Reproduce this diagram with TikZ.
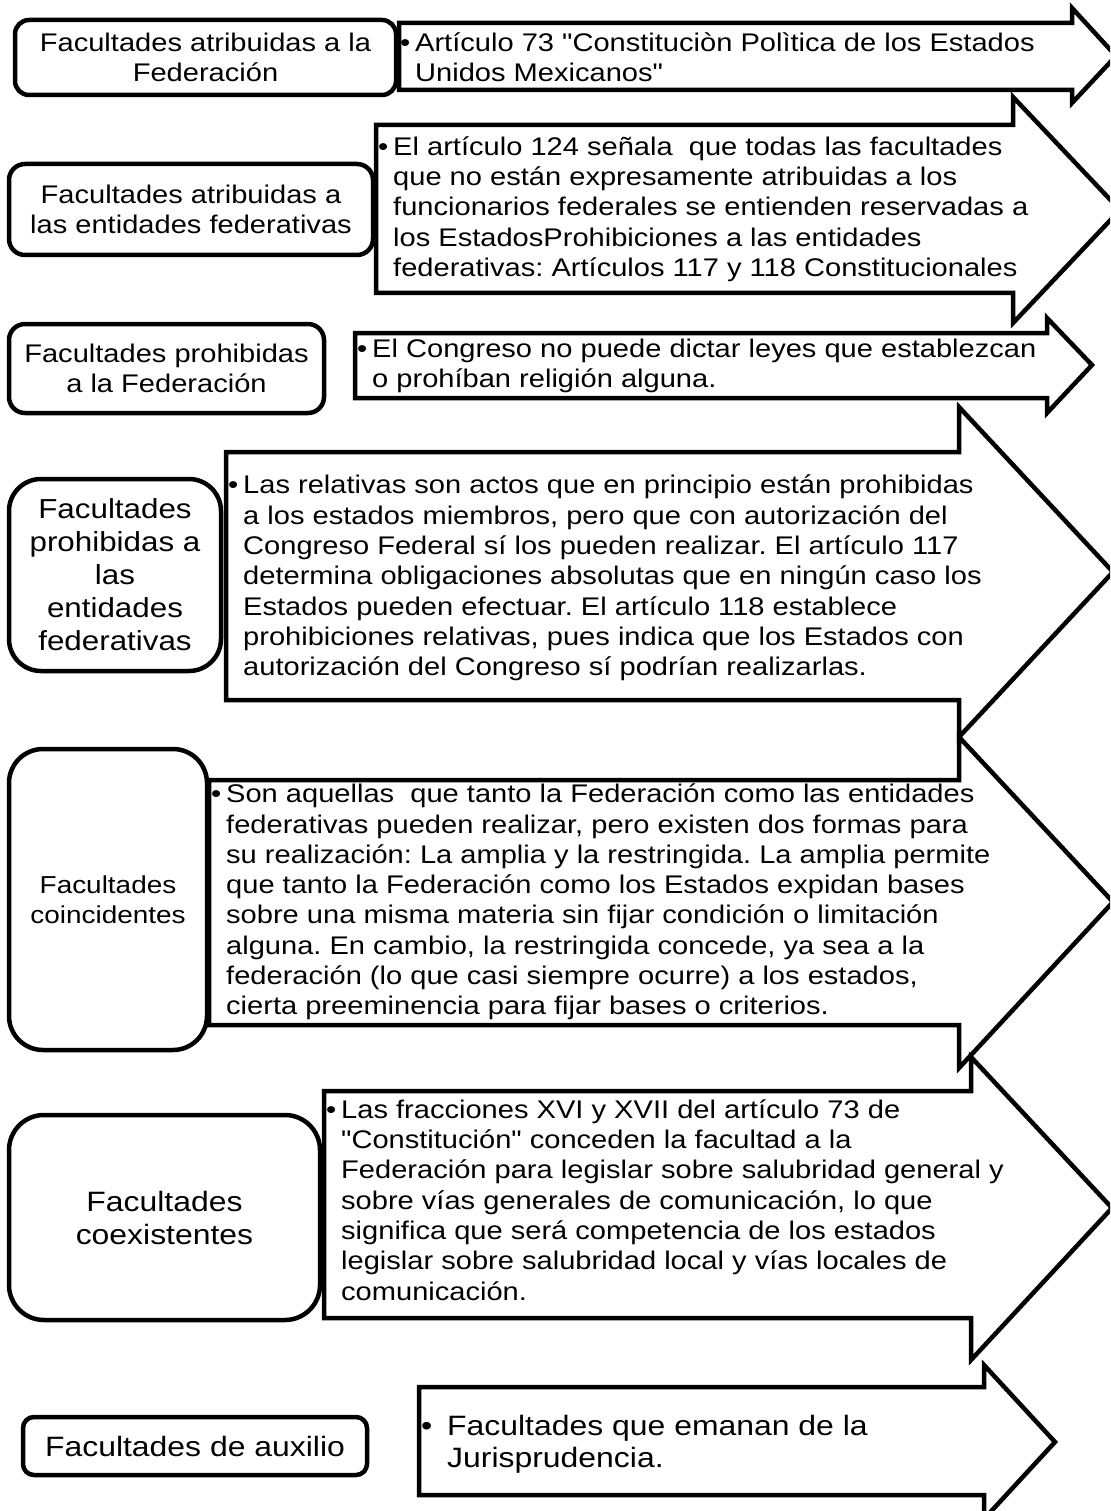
\documentclass[tikz,border=0pt]{standalone}
\usepackage{fontspec}
\setmainfont[FakeStretch=1.14,Ligatures=TeXOff]{Liberation Sans}
\newcommand\fsz[2]{\fontsize{#1}{#2}\selectfont}
\newcommand\blt{\makebox[15pt][l]{•}}
\newcommand\ind{\hspace*{15pt}}
\frenchspacing
\begin{document}
\frenchspacing
\begin{tikzpicture}[x=1pt,y=-1pt,
  arr/.style={draw=black, fill=white, line width=4.5pt, line join=miter},
  rbox/.style={draw=black, fill=white, line width=4.5pt, align=center, inner sep=0pt},
  atext/.style={anchor=west, align=left, inner sep=0pt, font=\fsz{25.5}{30.3}\frenchspacing}]
\useasboundingbox (0,0) rectangle (1110,1511);
\clip (0,0) rectangle (1110,1511);
\fill[white] (0,0) rectangle (1110,1511);

% ---------- arrows ----------
\draw[arr] (399,23) -- (1072,23) -- (1072,8) -- (1116,56) -- (1072,103) -- (1072,90) -- (399,90) -- cycle;
\draw[arr] (376,125) -- (1013,125) -- (1013,97) -- (1120,210) -- (1013,323) -- (1013,293) -- (376,293) -- cycle;
\draw[arr] (355,333) -- (1047,333) -- (1047,318) -- (1092,365) -- (1047,413) -- (1047,398) -- (355,398) -- cycle;
\draw[arr] (226,452) -- (959,452) -- (959,407) -- (1113,572) -- (959,737) -- (959,700) -- (226,700) -- cycle;
\draw[arr] (209,780) -- (959,780) -- (959,737) -- (1113,902) -- (959,1068) -- (959,1025) -- (209,1025) -- cycle;
\draw[arr] (324,1091) -- (971,1091) -- (971,1057) -- (1112,1208) -- (971,1360) -- (971,1318) -- (324,1318) -- cycle;
\draw[arr] (419,1387) -- (984,1387) -- (984,1365) -- (1055,1442) -- (984,1519) -- (984,1495) -- (419,1495) -- cycle;

% ---------- arrow texts ----------
\node[atext, font=\fsz{25.5}{30}\frenchspacing] (t1) at (400,57) {\blt Artículo 73 "Constituciòn Polìtica de los Estados\\\ind Unidos Mexicanos"};
\node[atext] (t2) at (378,209) {\blt El artículo 124 señala\ \ que todas las facultades\\\ind que no están expresamente atribuidas a los\\\ind funcionarios federales se entienden reservadas a\\\ind los EstadosProhibiciones a las entidades\\\ind federativas: Artículos 117 y 118 Constitucionales};
\node[atext, font=\fsz{25.5}{30}\frenchspacing] (t3) at (357,366) {\blt El Congreso no puede dictar leyes que establezcan\\\ind o prohíban religión alguna.};
\node[atext] (t4) at (228,578) {\blt Las relativas son actos que en principio están prohibidas\\\ind a los estados miembros, pero que con autorización del\\\ind Congreso Federal sí los pueden realizar. El artículo 117\\\ind determina obligaciones absolutas que en ningún caso los\\\ind Estados pueden efectuar. El artículo 118 establece\\\ind prohibiciones relativas, pues indica que los Estados con\\\ind autorización del Congreso sí podrían realizarlas.};
\node[atext] (t5) at (211,902) {\blt Son aquellas\ \ que tanto la Federación como las entidades\\\ind federativas pueden realizar, pero existen dos formas para\\\ind su realización: La amplia y la restringida. La amplia permite\\\ind que tanto la Federación como los Estados expidan bases\\\ind sobre una misma materia sin fijar condición o limitación\\\ind alguna. En cambio, la restringida concede, ya sea a la\\\ind federación (lo que casi siempre ocurre) a los estados,\\\ind cierta preeminencia para fijar bases o criterios.};
\node[atext] (t6) at (326,1200) {\blt Las fracciones XVI y XVII del artículo 73 de\\\ind "Constitución" conceden la facultad a la\\\ind Federación para legislar sobre salubridad general y\\\ind sobre vías generales de comunicación, lo que\\\ind significa que será competencia de los estados\\\ind legislar sobre salubridad local y vías locales de\\\ind comunicación.};
\node[atext, font=\fsz{28}{32}\frenchspacing] (t7) at (421,1444) {\makebox[26pt][l]{•}Facultades que emanan de la\\\hspace*{26pt}Jurisprudencia.};

% ---------- rounded boxes ----------
\node[rbox, rounded corners=14pt, minimum width=381pt, minimum height=75pt, font=\fsz{25.5}{30}] (b1) at (205.5,57.5) {Facultades atribuidas a la\\Federación};
\node[rbox, rounded corners=16pt, minimum width=364pt, minimum height=91pt, font=\fsz{25.5}{30}] (b2) at (191,209.5) {Facultades atribuidas a\\las entidades federativas};
\node[rbox, rounded corners=16pt, minimum width=315pt, minimum height=89pt, font=\fsz{25.5}{30}] (b3) at (166.5,368.5) {Facultades prohibidas\\a la Federación};
\node[rbox, rounded corners=32pt, minimum width=212pt, minimum height=192pt, font=\fsz{27.5}{33}] (b4) at (115,575) {Facultades\\prohibidas a\\las\\entidades\\federativas};
\node[rbox, rounded corners=34pt, minimum width=198pt, minimum height=301pt, font=\fsz{24.5}{29.5}] (b5) at (108,899.5) {Facultades\\coincidentes};
\node[rbox, rounded corners=35pt, minimum width=311pt, minimum height=205pt, font=\fsz{28}{33}] (b6) at (164.5,1217.5) {Facultades\\coexistentes};
\node[rbox, rounded corners=11pt, minimum width=344pt, minimum height=58pt, font=\fsz{28}{32}] (b7) at (195,1446) {Facultades de auxilio};
\end{tikzpicture}
\end{document}
